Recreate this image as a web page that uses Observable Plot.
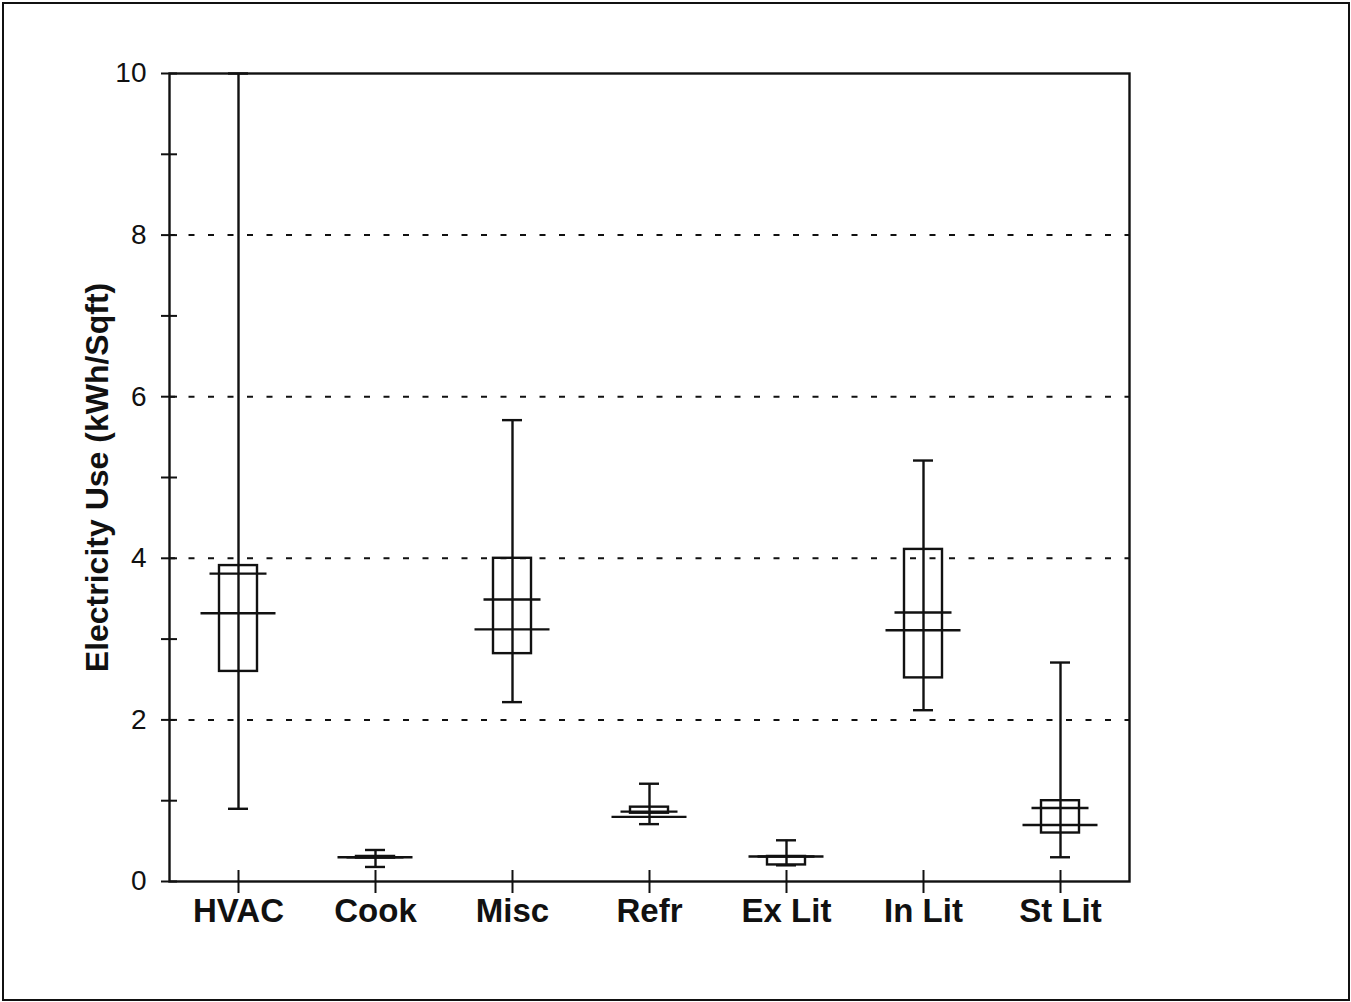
<!DOCTYPE html>
<html>
<head>
<meta charset="utf-8">
<script src="https://cdn.jsdelivr.net/npm/d3@7"></script>
<script src="https://cdn.jsdelivr.net/npm/@observablehq/plot@0.6"></script>
<style>
  html, body { margin: 0; padding: 0; background: #fff; }
  #wrap { position: relative; width: 1351px; height: 1002px; overflow: hidden; background: #fff; }
  #border { position: absolute; left: 2px; top: 2px; width: 1344px; height: 995px; border: 2px solid #111; z-index: 2; pointer-events: none; }
  #chart { position: absolute; left: 0; top: 0; z-index: 1; }
</style>
</head>
<body>
<div id="wrap"><div id="border"></div><div id="chart"></div></div>
<script>
const categories = ["HVAC", "Cook", "Misc", "Refr", "Ex Lit", "In Lit", "St Lit"];
const minVals   = [0.9, 0.18, 2.22, 0.71, 0.2, 2.12, 0.3];
const maxVals   = [10, 0.39, 5.71, 1.21, 0.51, 5.21, 2.71];
const q1Vals    = [2.6, 0.29, 2.82, 0.845, 0.205, 2.52, 0.6];
const q3Vals    = [3.91, 0.31, 4.0, 0.92, 0.31, 4.11, 1.0];
const shortLine = [3.81, 0.3, 3.49, 0.865, 0.31, 3.33, 0.91];
const longLine  = [3.32, 0.3, 3.12, 0.80, 0.31, 3.11, 0.70];
const yTickLabels = [0, 2, 4, 6, 8, 10];
const yTickMarks = [0, 1, 2, 3, 4, 5, 6, 7, 8, 9, 10];
const gridValues = [2, 4, 6, 8];
const yTitle = "Electricity Use (kWh/Sqft)";

const rows = categories.map((c, i) => ({
  cat: c, min: minVals[i], max: maxVals[i], q1: q1Vals[i], q3: q3Vals[i],
  s: shortLine[i], l: longLine[i]
}));

const W = 1351, H = 1002;
const mL = 169, mR = 222, mT = 73, mB = 121;
const pw = W - mL - mR, ph = H - mT - mB;
const font = "'Liberation Sans', Arial, Helvetica, sans-serif";
const sw = 2.4;

const chart = Plot.plot({
  width: W, height: H,
  marginLeft: mL, marginRight: mR, marginTop: mT, marginBottom: mB,
  style: {fontFamily: font, background: "transparent", color: "#111"},
  x: {type: "band", domain: categories, paddingInner: 0.72, paddingOuter: 0.36, label: null},
  y: {domain: [0, 10], label: null},
  marks: [
    Plot.ruleY(gridValues, {y: d => d, stroke: "#111", strokeWidth: 2, strokeDasharray: "6,13.5"}),
    Plot.frame({stroke: "#111", strokeWidth: sw}),
    Plot.tickY(yTickMarks, {y: d => d, stroke: "#111", strokeWidth: 2, insetLeft: -8, insetRight: pw - 8}),
    Plot.ruleX(categories, {x: d => d, stroke: "#111", strokeWidth: 2, insetTop: ph - 11, insetBottom: -12}),
    Plot.axisY(yTickLabels, {tickSize: 0, tickPadding: 23, fontSize: 28, label: null, tickFormat: d => String(d)}),
    Plot.axisX({tickSize: 0, tickPadding: 17, fontSize: 33, fontWeight: "bold", label: null}),
    Plot.text([yTitle], {text: d => d, frameAnchor: "left", textAnchor: "middle", rotate: -90, dx: -72, fontSize: 32, fontWeight: "bold", fill: "#111"}),
    Plot.ruleX(rows, {x: "cat", y1: "min", y2: "max", stroke: "#111", strokeWidth: sw}),
    Plot.tickY(rows, {x: "cat", y: "min", stroke: "#111", strokeWidth: sw, insetLeft: 9, insetRight: 9}),
    Plot.tickY(rows, {x: "cat", y: "max", stroke: "#111", strokeWidth: sw, insetLeft: 9, insetRight: 9}),
    Plot.barY(rows, {x: "cat", y1: "q1", y2: "q3", fill: "none", stroke: "#111", strokeWidth: sw}),
    Plot.tickY(rows, {x: "cat", y: "s", stroke: "#111", strokeWidth: sw, insetLeft: -9.5, insetRight: -9.5}),
    Plot.tickY(rows, {x: "cat", y: "l", stroke: "#111", strokeWidth: sw, insetLeft: -18.5, insetRight: -18.5})
  ]
});
document.getElementById("chart").appendChild(chart);
</script>
</body>
</html>
